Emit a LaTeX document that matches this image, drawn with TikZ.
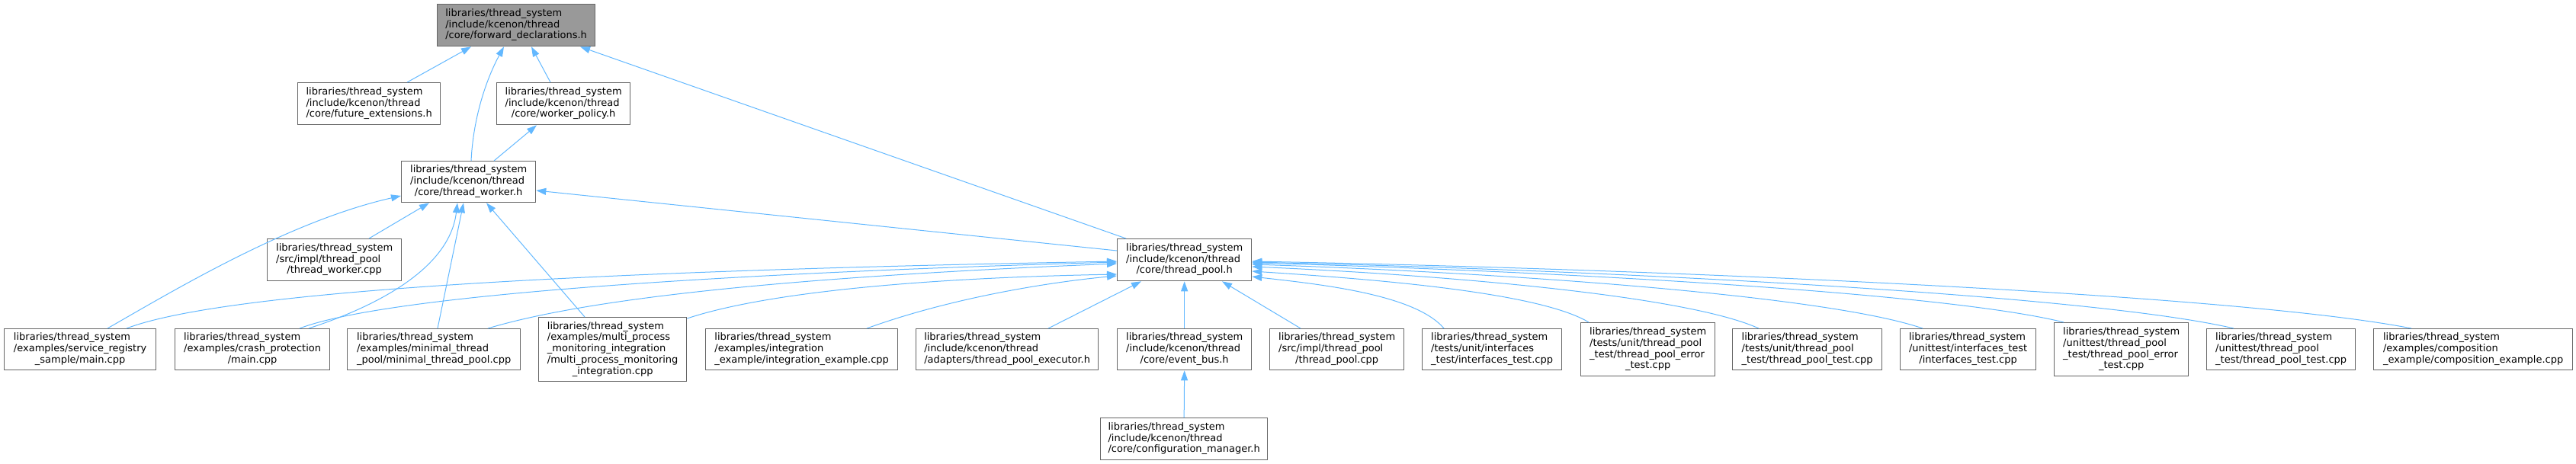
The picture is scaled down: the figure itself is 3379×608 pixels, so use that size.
\documentclass[tikz,border=0pt]{standalone}
\usepackage{fontspec}
\setmainfont{DejaVu Sans}
\usetikzlibrary{arrows.meta,calc}
\definecolor{edgeblue}{HTML}{63B8FF}
\definecolor{boxgray}{HTML}{666666}
\definecolor{mainfill}{HTML}{999999}
\newcommand{\lbl}[2]{\begin{tabular}{@{}l@{}}#1\\\multicolumn{1}{@{}c@{}}{#2}\end{tabular}}
\newcommand{\mkbox}[6]{\node[box,minimum width=#4pt,minimum height=#5pt] (#1) at (#2,#3) {#6};}
\begin{document}
\begin{tikzpicture}[x=1pt,y=-1pt,
  box/.style={draw=boxgray, line width=1.3pt, fill=white, rectangle, anchor=north west, inner sep=0pt, font=\fontsize{13}{14.8}\selectfont, text=black},
  edge/.style={draw=edgeblue, line width=1pt, -{Triangle[length=13pt,width=9pt]}}]
\useasboundingbox (0,0) rectangle (3379,608);
% nodes
\node[box, fill=mainfill, minimum width=207pt, minimum height=55pt] (A) at (573,5) {\lbl{libraries/thread\_system\\/include/kcenon/thread}{/core/forward\_declarations.h}};
\mkbox{B}{390}{108}{187}{55}{\lbl{libraries/thread\_system\\/include/kcenon/thread}{/core/future\_extensions.h}}
\mkbox{C}{651}{108}{175}{55}{\lbl{libraries/thread\_system\\/include/kcenon/thread}{/core/worker\_policy.h}}
\mkbox{D}{526}{211}{176}{54}{\lbl{libraries/thread\_system\\/include/kcenon/thread}{/core/thread\_worker.h}}
\mkbox{E}{350}{313}{176}{55}{\lbl{libraries/thread\_system\\/src/impl/thread\_pool}{/thread\_worker.cpp}}
\mkbox{F}{1465}{313}{176}{55}{\lbl{libraries/thread\_system\\/include/kcenon/thread}{/core/thread\_pool.h}}
\mkbox{G}{5}{431}{199}{54}{\lbl{libraries/thread\_system\\/examples/service\_registry}{\_sample/main.cpp}}
\mkbox{H}{229}{431}{203}{54}{\lbl{libraries/thread\_system\\/examples/crash\_protection}{/main.cpp}}
\mkbox{I}{455}{431}{227}{54}{\lbl{libraries/thread\_system\\/examples/minimal\_thread}{\_pool/minimal\_thread\_pool.cpp}}
\mkbox{J}{706}{416}{194}{84}{\lbl{libraries/thread\_system\\/examples/multi\_process\\\_monitoring\_integration\\/multi\_process\_monitoring}{\_integration.cpp}}
\mkbox{K}{925}{431}{252}{54}{\lbl{libraries/thread\_system\\/examples/integration}{\_example/integration\_example.cpp}}
\mkbox{L}{1201}{431}{239}{54}{\lbl{libraries/thread\_system\\/include/kcenon/thread}{/adapters/thread\_pool\_executor.h}}
\mkbox{M}{1465}{431}{176}{54}{\lbl{libraries/thread\_system\\/include/kcenon/thread}{/core/event\_bus.h}}
\mkbox{N}{1665}{431}{176}{54}{\lbl{libraries/thread\_system\\/src/impl/thread\_pool}{/thread\_pool.cpp}}
\mkbox{O}{1865}{431}{183}{54}{\lbl{libraries/thread\_system\\/tests/unit/interfaces}{\_test/interfaces\_test.cpp}}
\mkbox{P}{2073}{423}{176}{70}{\lbl{libraries/thread\_system\\/tests/unit/thread\_pool\\\_test/thread\_pool\_error}{\_test.cpp}}
\mkbox{Q}{2272}{431}{196}{54}{\lbl{libraries/thread\_system\\/tests/unit/thread\_pool}{\_test/thread\_pool\_test.cpp}}
\mkbox{R}{2492}{431}{178}{54}{\lbl{libraries/thread\_system\\/unittest/interfaces\_test}{/interfaces\_test.cpp}}
\mkbox{S}{2694}{423}{176}{70}{\lbl{libraries/thread\_system\\/unittest/thread\_pool\\\_test/thread\_pool\_error}{\_test.cpp}}
\mkbox{T}{2894}{431}{195}{54}{\lbl{libraries/thread\_system\\/unittest/thread\_pool}{\_test/thread\_pool\_test.cpp}}
\mkbox{U}{3113}{431}{261}{54}{\lbl{libraries/thread\_system\\/examples/composition}{\_example/composition\_example.cpp}}
\mkbox{V}{1443}{548}{219}{55}{\lbl{libraries/thread\_system\\/include/kcenon/thread}{/core/configuration\_manager.h}}
% edges into A
\draw[edge] ($(B.north west)+(144,0)$) -- ($(A.south west)+(45,0)$);
\draw[edge] ($(D.north west)+(92,0)$) .. controls (621,150) and (640,100) .. ($(A.south west)+(88,0)$);
\draw[edge] ($(C.north west)+(71,0)$) -- ($(A.south west)+(124,0)$);
\draw[edge] ($(F.north west)+(12,0)$) -- ($(A.south west)+(188,0)$);
% into C
\draw[edge] ($(D.north west)+(122,0)$) -- ($(C.south west)+(53,0)$);
% into D
\draw[edge] ($(F.north west)+(0,16)$) -- ($(D.north east)+(0,39)$);
\draw[edge] ($(G.north west)+(136,0)$) .. controls (230,380) and (380,290) .. ($(D.north west)+(0,46)$);
\draw[edge] ($(E.north west)+(134,0)$) -- ($(D.south west)+(37,0)$);
\draw[edge] ($(H.north west)+(176,0)$) .. controls (500,400) and (590,350) .. ($(D.south west)+(74,0)$);
\draw[edge] ($(I.north west)+(119,0)$) -- ($(D.south west)+(82,0)$);
\draw[edge] ($(J.north west)+(61,0)$) -- ($(D.south west)+(112,0)$);
% into F, left side
\draw[edge] ($(G.north west)+(161,0)$) .. controls (300,380) and (800,355) .. ($(F.north west)+(0,30)$);
\draw[edge] ($(H.north west)+(164,0)$) .. controls (500,390) and (900,360) .. ($(F.north west)+(0,31)$);
\draw[edge] ($(I.north west)+(185,0)$) .. controls (760,395) and (1000,365) .. ($(F.north west)+(0,33)$);
\draw[edge] ($(J.north east)+(0,2)$) .. controls (1000,385) and (1200,365) .. ($(F.north west)+(0,47)$);
\draw[edge] ($(K.north west)+(212,0)$) .. controls (1250,390) and (1380,370) .. ($(F.north west)+(0,49)$);
% into F, bottom
\draw[edge] ($(L.north west)+(174,0)$) -- ($(F.south west)+(32,0)$);
\draw[edge] (M.north) -- (F.south);
\draw[edge] ($(N.north west)+(41,0)$) -- ($(F.south west)+(138,0)$);
% into F, right side
\draw[edge] ($(O.north west)+(29,0)$) .. controls (1856,386) and (1730,373) .. ($(F.north east)+(0,50)$);
\draw[edge] ($(P.north west)+(11,0)$) .. controls (2018,383) and (1796,366) .. ($(F.north east)+(0,43)$);
\draw[edge] ($(Q.north west)+(35,0)$) .. controls (2207,386) and (1874,360) .. ($(F.north east)+(0,37)$);
\draw[edge] ($(R.north west)+(30,0)$) .. controls (2390,386) and (1949,357) .. ($(F.north east)+(0,34)$);
\draw[edge] ($(S.north west)+(13,0)$) .. controls (2547,383) and (2014,355) .. ($(F.north east)+(0,32)$);
\draw[edge] ($(T.north west)+(36,0)$) .. controls (2737,386) and (2092,354) .. ($(F.north east)+(0,31)$);
\draw[edge] ($(U.north west)+(50,0)$) .. controls (2935,386) and (2174,353) .. ($(F.north east)+(0,30)$);
% into M
\draw[edge] (V.north) -- (M.south);
\end{tikzpicture}
\end{document}
